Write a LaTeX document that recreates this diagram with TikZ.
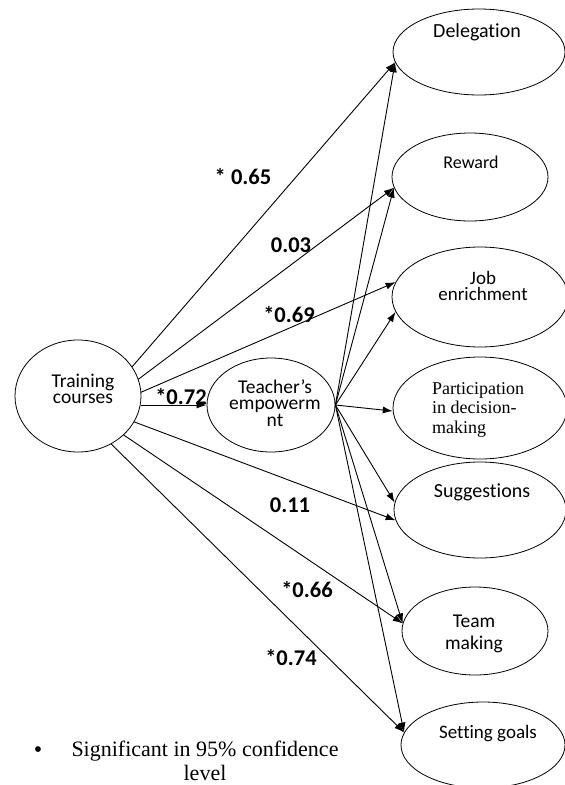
\documentclass[tikz,border=0pt]{standalone}
\usepackage{fontspec}
\setmainfont{Carlito}[Ligatures=NoCommon]
\newfontfamily\tnr{Liberation Serif}
\usetikzlibrary{arrows.meta,shapes.geometric,calc}
\pgfdeclarelayer{bg}
\pgfsetlayers{bg,main}
\begin{document}
\begin{tikzpicture}[x=1pt,y=-1pt,
  ell/.style={draw, ellipse, line width=0.8pt, fill=white, inner sep=0pt},
  conn/.style={line width=0.9pt, -{Latex[length=10pt,width=7pt]}},
  lab/.style={font=\fontsize{22.5}{24}\selectfont\bfseries, inner sep=0pt},
  txt/.style={align=center, inner sep=0pt, anchor=base}]
\useasboundingbox (0,0) rectangle (565,785);

% ellipses
\node[ell, minimum width=172pt, minimum height=86pt]  (del) at (479,52)  {};
\node[ell, minimum width=156pt, minimum height=88pt]  (rew) at (470,177) {};
\node[ell, minimum width=176pt, minimum height=100pt] (job) at (480,297) {};
\node[ell, minimum width=174pt, minimum height=102pt] (par) at (480,408) {};
\node[ell, minimum width=172pt, minimum height=96pt]  (sug) at (480,510) {};
\node[ell, minimum width=146pt, minimum height=88pt]  (tmk) at (475,631) {};
\node[ell, minimum width=164pt, minimum height=86pt]  (set) at (483,745) {};
\node[ell, minimum width=126pt, minimum height=112pt] (tc)  at (78,396)  {};
\node[ell, minimum width=128pt, minimum height=94pt]  (tea) at (271,405) {};

% texts (base anchor = baseline of the last line)
\node[txt, font=\fontsize{20}{16}\selectfont] (delt) at (477,37) {Delegation};
\node[txt, font=\fontsize{18}{16}\selectfont] (rewt) at (471,168) {Reward};
\node[txt, font=\fontsize{19}{15.5}\selectfont] (jobt) at (483,300) {Job\\enrichment};
\node[txt, font=\tnr\fontsize{18}{19.5}\selectfont, align=left, anchor=base west] (part) at (432,433) {Participation\\in decision-\\making};
\node[txt, font=\fontsize{20}{16}\selectfont] (sugt) at (482,497) {Suggestions};
\node[txt, font=\fontsize{19.5}{22}\selectfont] (tmkt) at (474,649) {Team\\making};
\node[txt, font=\fontsize{19}{16}\selectfont] (sett) at (488,738) {Setting goals};
\node[txt, font=\fontsize{19.5}{15.5}\selectfont] (tct) at (83,403) {Training\\courses};
\node[txt, font=\fontsize{19.5}{16.5}\selectfont] (teat) at (275,426) {Teacher’s\\empowerm\\nt};

% labels
\node[lab] (l65) at (243,177) {* 0.65};
\node[lab] (l03) at (291,245) {0.03};
\node[lab] (l69) at (289,315) {*0.69};
\node[lab] (l72) at (181,397) {*0.72};
\node[lab] (l11) at (290,505) {0.11};
\node[lab] (l66) at (307,590) {*0.66};
\node[lab] (l74) at (291,658) {*0.74};

% legend
\node[inner sep=0pt, font=\tnr\fontsize{24}{24}\selectfont, anchor=base] (bul) at (38,757) {•};
\node[txt, font=\tnr\fontsize{22}{24}\selectfont] (leg) at (205,780) {Significant in 95\% confidence\\level};

% connectors
\coordinate (s1) at ($(tc.center)+(22,8)$);
\coordinate (s2) at ($(tc.center)+(22,12)$);
\coordinate (s3) at ($(tc.center)+(22,14)$);
\coordinate (s4) at ($(tc.center)+(22,13)$);
\coordinate (s5) at ($(tc.center)+(22,23)$);
\coordinate (s6) at ($(tc.center)+(22,37)$);
\coordinate (s7) at ($(tc.center)+(22,9)$);
\begin{pgfonlayer}{bg}
\draw[conn] (s1) -- (del.187);
\draw[conn] (s2) -- (rew.188);
\draw[conn] (s3) -- (job.170);
\draw[conn] (s4) -- (sug.187);
\draw[conn] (s5) -- (tmk.174);
\draw[conn] (s6) -- (set.171);
\draw[conn] (tea.east) -- (del.187);
\draw[conn] (tea.east) -- (rew.188);
\draw[conn] (tea.east) -- (job.190);
\draw[conn] (tea.east) -- (par.182);
\draw[conn] (tea.east) -- (sug.175);
\draw[conn] (tea.east) -- (tmk.174);
\draw[conn] (tea.east) -- (set.171);
\end{pgfonlayer}
\draw[conn] (s7 -| tc.east) -- (tea.west);
\end{tikzpicture}
\end{document}
